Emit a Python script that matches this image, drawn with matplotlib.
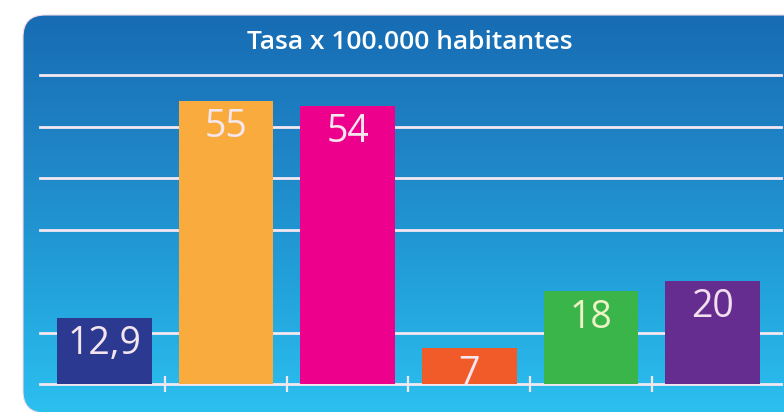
import numpy as np
import matplotlib
matplotlib.use("Agg")
import matplotlib.pyplot as plt
from matplotlib.patches import FancyBboxPatch
from matplotlib.colors import LinearSegmentedColormap

# values (rate per 100,000 inhabitants)
values = [12.9, 55, 54, 7, 18, 20]
labels = ["12,9", "55", "54", "7", "18", "20"]
colors = ["#2b3990", "#f9ac3d", "#ec008c", "#f15a29", "#39b54a", "#662d91"]
label_colors = ["#f3e4ee", "#f6e6ee", "#f6e6ee", "#f6e6ee", "#eef3c6", "#f3e0ee"]
gridlines = [0, 10, 30, 40, 50, 60]
title = "Tasa x 100.000 habitantes"

W, H = 784, 412
fig = plt.figure(figsize=(W / 100, H / 100), dpi=100)
fig.patch.set_facecolor("white")

# background panel with vertical gradient
bg = fig.add_axes([0, 0, 1, 1])
bg.set_xlim(0, W)
bg.set_ylim(H, 0)
bg.axis("off")
grad_cmap = LinearSegmentedColormap.from_list(
    "panel", ["#176cb3", "#1f84c6", "#22a0da", "#2cc0ef"])
grad = np.linspace(0, 1, 256).reshape(-1, 1)
panel = FancyBboxPatch((23, 15), 800, 398,
                       boxstyle="round,pad=0,rounding_size=22",
                       facecolor="none", edgecolor="#f4dce9", lw=0.8,
                       transform=bg.transData)
bg.add_patch(panel)
im = bg.imshow(grad, cmap=grad_cmap, aspect="auto",
               extent=[23, 823, 413, 15], origin="upper")
im.set_clip_path(panel)

bg.text(410, 42, title, ha="center", va="center", color="white",
        fontsize=19, fontweight="semibold", family="Open Sans")

# chart area
ax = fig.add_axes([40 / W, (H - 384) / H, (781 - 40) / W, (384 - 75) / H])
ax.set_facecolor("none")
x = np.arange(len(values))
ax.set_xlim(-0.529, 5.562)
ax.set_ylim(0, 60)

for g in gridlines:
    ax.axhline(g, color="#f3e8f1", lw=2.0, zorder=1, clip_on=False)

ax.bar(x, values, width=0.78, color=colors, zorder=2)

for xi, v, lab, lc in zip(x, values, labels, label_colors):
    ax.annotate(lab, (xi, v), xytext=(0, -19), textcoords="offset points",
                ha="center", va="center", fontsize=27, color=lc,
                family="Open Sans", zorder=3)

ax.set_xticks(x[:-1] + 0.5)
ax.set_xticklabels([])
ax.tick_params(axis="x", direction="inout", length=11, width=1.6,
               color="#f3e8f1")
ax.set_yticks([])
for s in ax.spines.values():
    s.set_visible(False)

fig.savefig("out.png", dpi=100)
